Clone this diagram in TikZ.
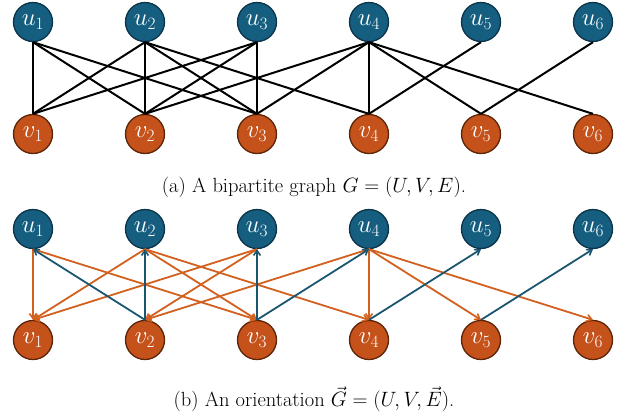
\documentclass[tikz,border=0pt]{standalone}
\usetikzlibrary{arrows.meta}
\definecolor{ublue}{HTML}{165E80}
\definecolor{ubord}{HTML}{0B3448}
\definecolor{vorange}{HTML}{C4521A}
\definecolor{vbord}{HTML}{5E2408}
\definecolor{ablue}{HTML}{1B5670}
\definecolor{aorange}{HTML}{D2601E}
\begin{document}
\begin{tikzpicture}[x=1pt,y=-1pt,
  vtx/.style={circle,line width=1.3pt,minimum size=39pt,inner sep=0pt,text=white,font=\fontsize{27}{27}\selectfont},
  unode/.style={vtx,draw=ubord,fill=ublue},
  vnode/.style={vtx,draw=vbord,fill=vorange},
  blackedge/.style={line width=2pt,black},
  mytip/.style={-{Straight Barb[angle=70:6pt,line width=1.6pt]}},
  oarr/.style={line width=1.8pt,aorange,mytip},
  barr/.style={line width=1.8pt,ablue,mytip},
  captext/.style={font=\fontsize{20.5}{22}\selectfont}]
\useasboundingbox (0,0) rectangle (623,413);
% graph (a)
\foreach \i in {1,...,6}{
  \node[unode] (au\i) at ({33+112*(\i-1)},22) {$u_{\i}$};
  \node[vnode] (av\i) at ({33+112*(\i-1)},134) {$v_{\i}$};
}
\foreach \a/\b in {1/1,1/2,1/3,2/1,2/2,2/3,2/4,3/1,3/2,3/3,4/2,4/3,4/4,4/5,4/6,5/4,6/5}{
  \draw[blackedge] (au\a.south) -- (av\b.north);
}
\node[captext] (capa) at (314,187) {(a) A bipartite graph $G=(U,V,E)$.};
% graph (b)
\foreach \i in {1,...,6}{
  \node[unode] (bu\i) at ({33+112*(\i-1)},229) {$u_{\i}$};
  \node[vnode] (bv\i) at ({33+112*(\i-1)},340) {$v_{\i}$};
}
\foreach \a/\b in {1/1,1/3,2/1,2/3,2/4,3/1,3/2,4/2,4/4,4/5,4/6}{
  \draw[oarr] (bu\a.south) -- (bv\b.north);
}
\foreach \a/\b in {1/2,2/2,3/3,4/3,5/4,6/5}{
  \draw[barr] (bv\b.north) -- (bu\a.south);
}
\node[captext] (capb) at (314,399) {(b) An orientation $\vec{G}=(U,V,\vec{E})$.};
\end{tikzpicture}
\end{document}
